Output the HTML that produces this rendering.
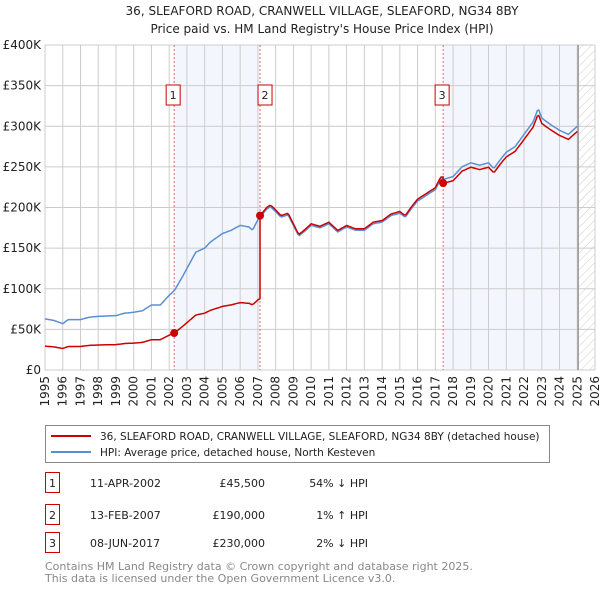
<!DOCTYPE html>
<html><head><meta charset="utf-8"><style>
body{margin:0;background:#fff;font-family:"Liberation Sans","DejaVu Sans",sans-serif;}
svg text{font-family:"DejaVu Sans","Liberation Sans",sans-serif;}
</style></head><body>
<svg id="c" width="600" height="590" viewBox="0 0 600 590" xmlns="http://www.w3.org/2000/svg">
<defs><pattern id="hatch" width="6" height="6" patternUnits="userSpaceOnUse" patternTransform="rotate(45)"><line x1="0" y1="0" x2="0" y2="6" stroke="#ccc" stroke-width="1"/></pattern></defs>
<text x="322" y="15" text-anchor="middle" font-size="12" fill="#222">36, SLEAFORD ROAD, CRANWELL VILLAGE, SLEAFORD, NG34 8BY</text>
<text x="322" y="33" text-anchor="middle" font-size="12" fill="#222">Price paid vs. HM Land Registry's House Price Index (HPI)</text>
<g id="plot"></g>
<rect x="45.5" y="425.5" width="504" height="37" fill="#fff" stroke="#888"/>
<line x1="51" y1="436" x2="91" y2="436" stroke="#cc0000" stroke-width="2"/>
<text x="100" y="440" font-size="10.5" fill="#222">36, SLEAFORD ROAD, CRANWELL VILLAGE, SLEAFORD, NG34 8BY (detached house)</text>
<line x1="51" y1="452" x2="91" y2="452" stroke="#5b8fd4" stroke-width="2"/>
<text x="100" y="456" font-size="10.5" fill="#222">HPI: Average price, detached house, North Kesteven</text>
<g id="table" font-size="11" fill="#222"></g>
<text x="45" y="570" font-size="11" fill="#888">Contains HM Land Registry data © Crown copyright and database right 2025.</text>
<text x="45" y="582" font-size="11" fill="#888">This data is licensed under the Open Government Licence v3.0.</text>
</svg>
<script>
const hpiYears=[1995,1995.5,1996,1996.3,1997,1997.5,1998,1999,1999.5,2000,2000.5,2001,2001.5,2002,2002.3,2002.7,2003,2003.5,2004,2004.3,2005,2005.5,2006,2006.5,2006.7,2007,2007.2,2007.5,2007.7,2008,2008.3,2008.7,2009,2009.3,2009.6,2010,2010.5,2011,2011.5,2012,2012.5,2013,2013.5,2014,2014.5,2015,2015.3,2015.7,2016,2016.5,2017,2017.3,2017.5,2018,2018.5,2019,2019.5,2020,2020.3,2020.7,2021,2021.5,2022,2022.5,2022.8,2023,2023.5,2024,2024.5,2025];
const hpiValues=[63,61,57,62,62,65,66,67,70,71,73,80,80,92,98,113,125,145,150,157,168,172,178,176,172,185,190,198,201,195,188,191,178,165,170,178,175,180,170,176,172,172,180,182,190,193,188,200,208,215,222,235,235,238,250,255,252,255,248,260,268,275,290,305,322,310,302,295,290,300];
const saleYears=[2002.28,2007.12,2017.44];
const salePrices=[45500,190000,230000];
const saleLabels=["1","2","3"];
const saleDates=["11-APR-2002","13-FEB-2007","08-JUN-2017"];
const salePriceText=["£45,500","£190,000","£230,000"];
const saleHpiText=["54% ↓ HPI","1% ↑ HPI","2% ↓ HPI"];
const yTicks=[0,50000,100000,150000,200000,250000,300000,350000,400000];
const yTickLabels=["£0","£50K","£100K","£150K","£200K","£250K","£300K","£350K","£400K"];
const xTicks=[1995,1996,1997,1998,1999,2000,2001,2002,2003,2004,2005,2006,2007,2008,2009,2010,2011,2012,2013,2014,2015,2016,2017,2018,2019,2020,2021,2022,2023,2024,2025,2026];
const dataEnd=2025.05;

const L=45,R=595,T=45,B=370;
const X=y=>L+(y-1995)/(2026-1995)*(R-L);
const Y=v=>B-v/400000*(B-T);
const NS="http://www.w3.org/2000/svg";
const g=document.getElementById('plot');
function mk(t,a,p){const e=document.createElementNS(NS,t);for(const k in a)e.setAttribute(k,a[k]);(p||g).appendChild(e);return e;}
function hpiAt(y){if(y<=hpiYears[0])return hpiValues[0]*1000;for(let i=1;i<hpiYears.length;i++){if(y<=hpiYears[i]){const f=(y-hpiYears[i-1])/(hpiYears[i]-hpiYears[i-1]);return 1000*(hpiValues[i-1]+f*(hpiValues[i]-hpiValues[i-1]));}}return hpiValues[hpiValues.length-1]*1000;}

let e=mk('rect',{x:X(saleYears[0]),y:T,width:X(saleYears[1])-X(saleYears[0]),height:B-T,fill:'#f3f7fd'});


e=mk('rect',{x:X(saleYears[2]),y:T,width:X(dataEnd)-X(saleYears[2]),height:B-T,fill:'#f3f7fd'});


e=mk('rect',{x:X(dataEnd),y:T,width:R-X(dataEnd),height:B-T,fill:'url(#hatch)'});


xTicks.forEach((t,i)=>{
  const l=mk('line',{x1:X(t),x2:X(t),y1:T,y2:B,stroke:'#ccc','stroke-width':1});
  
  
  const tx=mk('text',{x:0,y:0,transform:`translate(${X(t)+4},${B+6}) rotate(-90)`,'text-anchor':'end','font-size':12,fill:'#222'});
  tx.textContent=t;
  
  
});
yTicks.forEach((t,i)=>{
  const l=mk('line',{x1:L,x2:R,y1:Y(t),y2:Y(t),stroke:'#ccc','stroke-width':1});
  
  
  const tx=mk('text',{x:L-4,y:Y(t)+4,'text-anchor':'end','font-size':12,fill:'#222'});
  tx.textContent=yTickLabels[i];
  
  
});
e=mk('line',{x1:X(dataEnd),x2:X(dataEnd),y1:T,y2:B,stroke:'#999','stroke-width':1.5});


saleYears.forEach((s,i)=>{
  const l=mk('line',{x1:X(s),x2:X(s),y1:T,y2:B,stroke:'#e06666','stroke-width':1,'stroke-dasharray':'2,2'});
  
  
  const r=mk('rect',{x:X(s)-(i==0?8:i==1?2:8),y:85,width:14,height:20,fill:'#fff',stroke:'#cc0000','stroke-width':1});
  
  
  const t=mk('text',{x:+r.getAttribute('x')+7,y:99,'text-anchor':'middle','font-size':11,fill:'#222'});
  t.textContent=saleLabels[i];
  
  
});
const samp=[];for(let y=1995;y<=dataEnd+1e-9;y+=1/12)samp.push(y);
let d=samp.map((y,i)=>(i?'L':'M')+X(y).toFixed(1)+','+Y(hpiAt(y)).toFixed(1)).join('');
e=mk('path',{d:d,fill:'none',stroke:'#5b8fd4','stroke-width':1.5});


function priceAt(y){let k=0;for(let i=0;i<saleYears.length;i++)if(y>=saleYears[i])k=i;
  const f=salePrices[k]/hpiAt(saleYears[k]);return hpiAt(y)*f;}
const pts=[];samp.forEach(y=>{saleYears.forEach(s=>{if(pts.length&&pts[pts.length-1][0]<s&&y>=s){pts.push([s,priceAt(s-1e-6)]);pts.push([s,priceAt(s)]);}});pts.push([y,priceAt(y)]);});
d=pts.map((p,i)=>(i?'L':'M')+X(p[0]).toFixed(1)+','+Y(p[1]).toFixed(1)).join('');
e=mk('path',{d:d,fill:'none',stroke:'#cc0000','stroke-width':1.5});


saleYears.forEach((s,i)=>{
  const c=mk('circle',{cx:X(s),cy:Y(salePrices[i]),r:4,fill:'#cc0000'});
  
  
});
const tb=document.getElementById('table');
const rowY=[484,516,544];
saleYears.forEach((s,i)=>{
  const y=rowY[i];
  const r=mk('rect',{x:45.5,y:y-11.5,width:14,height:20,fill:'#fff',stroke:'#cc0000'},tb);
  
  
  let t=mk('text',{x:52.5,y:y+3,'text-anchor':'middle'},tb);t.textContent=saleLabels[i];
  
  
  t=mk('text',{x:90,y:y+3},tb);t.textContent=saleDates[i];
  
  
  t=mk('text',{x:265,y:y+3,'text-anchor':'end'},tb);t.textContent=salePriceText[i];
  
  
  t=mk('text',{x:368,y:y+3,'text-anchor':'end'},tb);t.textContent=saleHpiText[i];
  
  
});
</script>
</body></html>
